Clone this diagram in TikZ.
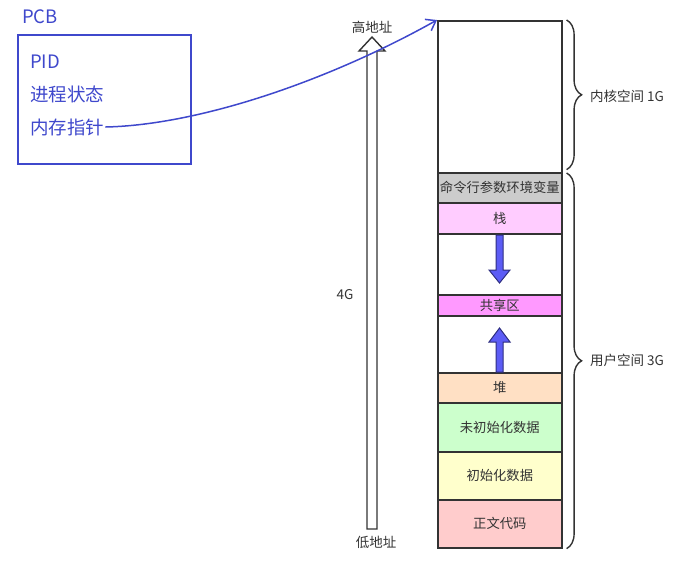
\documentclass[tikz,border=0pt]{standalone}
\usepackage{fontspec}
\setmainfont{Noto Sans CJK SC}
\usetikzlibrary{decorations.pathreplacing,arrows.meta,calc}
\definecolor{pcbblue}{HTML}{3F48CC}
\definecolor{edge}{HTML}{333333}
\definecolor{txt}{HTML}{333333}
\definecolor{cmdgray}{HTML}{CCCCCC}
\definecolor{stackpink}{HTML}{FFCCFF}
\definecolor{sharedpink}{HTML}{FF99FF}
\definecolor{heappeach}{HTML}{FFE0C4}
\definecolor{bssgreen}{HTML}{CCFFCC}
\definecolor{datayellow}{HTML}{FFFFCC}
\definecolor{textred}{HTML}{FFCCCC}
\definecolor{arrowfill}{HTML}{5C5CF5}
\definecolor{arrowline}{HTML}{2E2E80}
\begin{document}
\begin{tikzpicture}[x=1pt,y=-1pt,
  seg/.style={draw=edge,line width=1.6pt,minimum width=124pt,inner sep=0pt,anchor=north west,
    font=\fontsize{13.3}{15}\selectfont,text=txt},
  lbl/.style={font=\fontsize{13.5}{15}\selectfont,text=txt,inner sep=1pt},
  pcbtxt/.style={font=\fontsize{18.5}{21}\selectfont,text=pcbblue,inner sep=1pt,anchor=west},
  bracestyle/.style={draw=edge,line width=1.4pt,decorate,decoration={brace,amplitude=15pt}},
  blockarrow/.style={fill=arrowfill,draw=arrowline,line width=1pt,line join=miter}]
\useasboundingbox (0,0) rectangle (690,566);
% PCB
\node[pcbtxt] (pcblabel) at (21,17) {PCB};
\node[draw=pcbblue,line width=1.6pt,minimum width=173pt,minimum height=129pt,anchor=north west,inner sep=0pt] (pcb) at (17,34) {};
\node[pcbtxt] (pid) at (29,62) {PID};
\node[pcbtxt] (state) at (29,94) {进程状态};
\node[pcbtxt] (mem) at (29,127) {内存指针};
% memory column
\node[seg,minimum height=152pt] (kernel) at (437,20) {};
\node[seg,minimum height=30pt,fill=cmdgray] (cmd) at (437,172) {命令行参数环境变量};
\node[seg,minimum height=31pt,fill=stackpink] (stack) at (437,202) {栈};
\node[seg,minimum height=61pt] (gapa) at (437,233) {};
\node[seg,minimum height=21pt,fill=sharedpink] (shared) at (437,294) {共享区};
\node[seg,minimum height=57pt] (gapb) at (437,315) {};
\node[seg,minimum height=30pt,fill=heappeach] (heap) at (437,372) {堆};
\node[seg,minimum height=49pt,fill=bssgreen] (bss) at (437,402) {未初始化数据};
\node[seg,minimum height=48pt,fill=datayellow] (data) at (437,451) {初始化数据};
\node[seg,minimum height=48pt,fill=textred] (code) at (437,499) {正文代码};
% blue block arrows
\draw[blockarrow] (496,235) -- (503,235) -- (503,270) -- (510,270) -- (499.5,283) -- (489,270) -- (496,270) -- cycle;
\draw[blockarrow] (496,372) -- (496,342) -- (489,342) -- (499.5,328) -- (510,342) -- (503,342) -- (503,372) -- cycle;
% tall address arrow
\draw[draw=edge,line width=1.4pt,fill=white,line join=miter] (367,529) -- (367,51) -- (359,51) -- (372,37) -- (385,51) -- (377,51) -- (377,529) -- cycle;
\node[lbl] (high) at (372,27) {高地址};
\node[lbl] (low) at (376,542) {低地址};
\node[lbl] (fourg) at (345,295) {4G};
% braces
\coordinate (kb1) at ($(kernel.north east)+(4,0)$);
\coordinate (kb2) at ($(kernel.south east)+(4,-4)$);
\coordinate (ub1) at ($(cmd.north east)+(4,1)$);
\coordinate (ub2) at ($(code.south east)+(4,0)$);
\draw[bracestyle] (kb1) -- (kb2);
\draw[bracestyle] (ub1) -- (ub2);
\node[lbl,anchor=west] (klabel) at (589,96) {内核空间 1G};
\node[lbl,anchor=west] (ulabel) at (589,360) {用户空间 3G};
% pointer curve
\draw[pcbblue,line width=1.5pt,-{Straight Barb[length=9pt,width=13pt]}] (mem.east) .. controls (200,125) and (330,80) .. (kernel.north west);
\end{tikzpicture}
\end{document}
